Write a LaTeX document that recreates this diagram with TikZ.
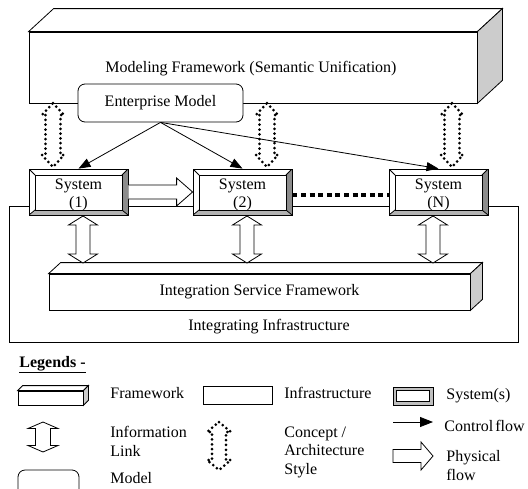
\documentclass[tikz,border=0pt]{standalone}
\usepackage{fontspec}
\setmainfont{Liberation Serif}
\usetikzlibrary{arrows.meta,calc}

% closed outline of a two-headed block arrow (vertical)
% #1 style, #2 centre x, #3 top y, #4 bottom y, #5 head half width, #6 shaft half width, #7 head length
\newcommand\DblArrow[7]{%
  \draw[#1] (#2,#3) -- (#2+#5,#3+#7) -- (#2+#6,#3+#7) -- (#2+#6,#4-#7)
    -- (#2+#5,#4-#7) -- (#2,#4) -- (#2-#5,#4-#7) -- (#2-#6,#4-#7)
    -- (#2-#6,#3+#7) -- (#2-#5,#3+#7) -- cycle;}

% top and side faces of a framework slab: #1 node, #2 depth x, #3 depth y
\newcommand\Slab[3]{%
  \draw[fill=white] (#1.north west) -- ++(#2,-#3) -- ($(#1.north east)+(#2,-#3)$)
    -- (#1.north east) -- cycle;
  \draw[fill=black!20] (#1.north east) -- ++(#2,-#3) -- ($(#1.south east)+(#2,-#3)$)
    -- (#1.south east) -- cycle;}

\tikzset{
  txt/.style={inner sep=0pt},
  slabface/.style={draw, fill=white, inner sep=0pt},
  model/.style={draw, fill=white, rounded corners=7pt, inner sep=0pt},
  infra/.style={draw, inner sep=0pt},
  sysbox/.style={draw, fill=white, inner sep=0pt, minimum width=99pt, minimum height=46pt,
    path picture={
      \coordinate (A) at (path picture bounding box.north west);
      \coordinate (B) at (path picture bounding box.north east);
      \coordinate (C) at (path picture bounding box.south east);
      \coordinate (D) at (path picture bounding box.south west);
      \coordinate (a) at ($(A)+(6,6)$);
      \coordinate (b) at ($(B)+(-6,6)$);
      \coordinate (c) at ($(C)+(-6,-5)$);
      \coordinate (d) at ($(D)+(6,-5)$);
      \fill[black!45] (B) -- (C) -- (c) -- (b) -- cycle;
      \fill[black!30] (D) -- (C) -- (c) -- (d) -- cycle;
      \draw (a) rectangle (c);
      \draw (A) -- (a) (B) -- (b) (C) -- (c) (D) -- (d);
    }},
  infolink/.style={draw, fill=white},
  concept/.style={line width=3pt, line cap=round, dash pattern=on 0pt off 4.8pt},
  ctrl/.style={-{Triangle[length=12pt,width=9pt]}},
  physflow/.style={draw, fill=white},
  lbl/.style={inner sep=0pt, anchor=north west, align=left,
    font=\fontsize{16}{18.5}\selectfont},
}

\begin{document}
\begin{tikzpicture}[x=1pt, y=-1pt, line width=0.8pt, font=\fontsize{16}{18}\selectfont]
\useasboundingbox (0,0) rectangle (528,488);

% integrating infrastructure
\node[infra, minimum width=509pt, minimum height=136pt] (infra) at (263.5,274) {};
\node[txt] (infratxt) at (269,327) {Integrating Infrastructure};

% integration service framework
\node[slabface, minimum width=421pt, minimum height=36pt] (isf) at (259.5,292)
  {Integration Service Framework};
\Slab{isf}{12}{11}

% modeling framework
\node[slabface, minimum width=448pt, minimum height=71pt] (fw) at (253,67.5) {};
\Slab{fw}{25}{23}
\node[txt] (fwtxt) at (251,69) {Modeling Framework (Semantic Unification)};

% enterprise model
\node[model, minimum width=165pt, minimum height=38pt] (em) at (160.5,103) {Enterprise Model};

% systems
\node[sysbox] (s1) at (78.5,192) {};
\node[sysbox] (s2) at (242.5,192) {};
\node[sysbox] (sN) at (438.5,192) {};
\node[txt, align=center, yshift=-2.5pt] (s1t) at (s1.center) {System\\(1)};
\node[txt, align=center, yshift=-2.5pt] (s2t) at (s2.center) {System\\(2)};
\node[txt, align=center, yshift=-2.5pt] (sNt) at (sN.center) {System\\(N)};

% concept / architecture style links
\DblArrow{concept}{53}{103}{167}{11}{7.5}{12}
\DblArrow{concept}{267}{103}{167}{11}{7.5}{12}
\DblArrow{concept}{452}{103}{167}{11}{7.5}{12}

% control flow
\draw[ctrl] (em.south) -- (s1.north);
\draw[ctrl] (em.south) -- (s2.north);
\draw[ctrl] (em.south) -- (sN.north);

% physical flow from system 1 to system 2
\draw[physflow] ($(s1.east)+(0,-7)$) -- ($(s2.west)+(-16,-7)$) -- ($(s2.west)+(-16,-14)$)
  -- (s2.west) -- ($(s2.west)+(-16,14)$) -- ($(s2.west)+(-16,7)$) -- ($(s1.east)+(0,7)$);

% further systems
\draw[line width=4pt, dash pattern=on 5pt off 3.6pt] ($(s2.east)+(0,3)$) -- ($(sN.west)+(0,3)$);

% information links
\DblArrow{infolink}{83}{216}{263}{14.5}{7}{9}
\DblArrow{infolink}{247}{216}{263}{14.5}{7}{9}
\DblArrow{infolink}{433}{216}{263}{14.5}{7}{9}

% ---- legend ----
\node[txt, anchor=base west] (leg) at (19,367) {\underline{\textbf{Legends -}}};

\node[slabface, minimum width=65pt, minimum height=14pt] (lfw) at (50.5,398) {};
\Slab{lfw}{5}{5}
\node[lbl] (lfwt) at (110,387) {Framework};

\node[infra, minimum width=69pt, minimum height=18pt] (linf) at (237.5,395) {};
\node[lbl] (linft) at (284,387) {Infrastructure};

\node[draw, fill=black!25, inner sep=0pt, minimum width=40pt, minimum height=18pt] (lsys) at (413,396) {};
\node[draw, fill=white, inner sep=0pt, minimum width=33pt, minimum height=11.5pt] (lsysin) at (lsys.center) {};
\node[lbl] (lsyst) at (446,388) {System(s)};

\DblArrow{infolink}{43}{422}{452}{15}{7.5}{6.5}
\node[lbl] (linkt) at (110,426) {Information\\Link};

\DblArrow{concept}{219}{422}{470}{12}{7}{10}
\node[lbl] (lconc) at (284,426) {Concept /\\Architecture\\Style};

\coordinate (lc1) at (393,422);
\coordinate (lc2) at (433,422);
\draw[-{Triangle[length=13pt,width=10pt]}] (lc1) -- (lc2);
\node[lbl] (lctrl) at (444,420) {Control\hspace{2pt}flow};

\draw[physflow] (393,449.5) -- (421,449.5) -- (421,442) -- (433,456) -- (421,470)
  -- (421,462.5) -- (393,462.5) -- cycle;
\node[lbl] (lphys) at (446,450) {Physical\\flow};

\draw[model] (18,497) -- (18,470) -- (79,470) -- (79,497);
\node[lbl] (lmod) at (110,472) {Model};

\end{tikzpicture}
\end{document}
